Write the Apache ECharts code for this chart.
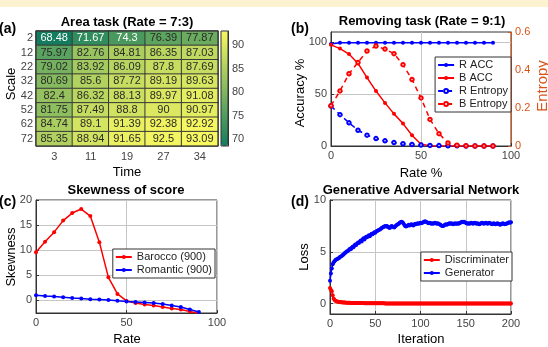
<!DOCTYPE html>
<html>
<head>
<meta charset="utf-8">
<script src="https://cdn.jsdelivr.net/npm/echarts@6/dist/echarts.min.js"></script>
<style>html,body{margin:0;padding:0;background:#fff;}#c{width:548px;height:347px;}</style>
</head>
<body>
<div id="c"></div>
<script>
// ---------- (a) heatmap ----------
var heatTime = ['3', '11', '19', '27', '34'];
var heatScale = ['2', '12', '22', '32', '42', '52', '62', '72'];
var heatRow2  = [68.48, 71.67, 74.3, 76.39, 77.87];
var heatRow12 = [75.97, 82.76, 84.81, 86.35, 87.03];
var heatRow22 = [79.02, 83.92, 86.09, 87.8, 87.69];
var heatRow32 = [80.69, 85.6, 87.72, 89.19, 89.63];
var heatRow42 = [82.4, 86.32, 88.13, 89.97, 91.08];
var heatRow52 = [81.75, 87.49, 88.8, 90, 90.97];
var heatRow62 = [84.74, 89.1, 91.39, 92.38, 92.92];
var heatRow72 = [85.35, 88.94, 91.65, 92.5, 93.09];
var colorbarTicks = [70, 75, 80, 85, 90];

// ---------- (b) removing task ----------
var rateB = [0, 5, 10, 15, 20, 25, 30, 35, 40, 45, 50, 55, 60, 65, 70, 75, 80, 85, 90];
var rAcc = [98.5, 99.6, 99.6, 99.6, 99.6, 99.6, 99.6, 99.6, 99.6, 99.6, 99.6, 99.6, 99.6, 99.6, 99.6, 99.6, 99.6, 99.6, 99.6];
var bAcc = [97.6, 94, 88.7, 79.7, 66, 53, 41.6, 31, 21.6, 10.3, 1.6, 0.3, 0.1, 0, 0, 0, 0, 0, 0];
var rEnt = [0.21, 0.165, 0.122, 0.083, 0.057, 0.039, 0.027, 0.018, 0.012, 0.008, 0.005, 0.003, 0.002, 0.001, 0.001, 0, 0, 0, 0];
var bEnt = [0.212, 0.29, 0.38, 0.44, 0.50, 0.526, 0.51, 0.486, 0.428, 0.35, 0.253, 0.14, 0.065, 0.016, 0.004, 0.001, 0, 0, 0];

// ---------- (c) skewness ----------
var rateC = [0, 5, 10, 15, 20, 25, 30, 35, 40, 45, 50, 55, 60, 65, 70, 75, 80, 85, 90];
var barocco = [9.6, 11.7, 13.6, 15.9, 17.4, 18.2, 16.8, 11.6, 4.6, 1.3, -0.1, -0.5, -0.8, -1.0, -1.3, -1.6, -1.8, -2.2, -2.6];
var romantic = [1.05, 0.9, 0.8, 0.66, 0.5, 0.4, 0.26, 0.2, 0.07, -0.07, -0.2, -0.3, -0.4, -0.5, -0.7, -1.0, -1.3, -1.8, -2.3];

// ---------- (d) GAN losses, iterations 0..200 ----------
var discriminater = [1.5, 1.35, 1.2, 0.8, 0.5, 0.35, 0.28, 0.24, 0.2, 0.18,
  0.16, 0.15, 0.14, 0.13, 0.12, 0.11, 0.1, 0.1, 0.09, 0.09,
  0.08, 0.08, 0.08, 0.07, 0.07, 0.07, 0.07, 0.06, 0.06, 0.06,
  0.06, 0.06, 0.05, 0.05, 0.05, 0.05, 0.05, 0.05, 0.04, 0.04,
  0.04, 0.04, 0.04, 0.04, 0.04, 0.04, 0.03, 0.03, 0.03, 0.03,
  0.03, 0.03, 0.03, 0.03, 0.03, 0.03, 0.03, 0.03, 0.03, 0.03,
  0.03, 0.02, 0.02, 0.02, 0.02, 0.02, 0.02, 0.02, 0.02, 0.02,
  0.02, 0.02, 0.02, 0.02, 0.02, 0.02, 0.02, 0.02, 0.02, 0.02,
  0.02, 0.02, 0.02, 0.02, 0.02, 0.02, 0.02, 0.02, 0.02, 0.02,
  0.02, 0.02, 0.02, 0.02, 0.02, 0.02, 0.02, 0.02, 0.02, 0.02,
  0.02, 0.02, 0.02, 0.02, 0.02, 0.02, 0.02, 0.02, 0.02, 0.02,
  0.02, 0.02, 0.02, 0.02, 0.02, 0.02, 0.02, 0.02, 0.02, 0.02,
  0.02, 0.02, 0.02, 0.02, 0.02, 0.02, 0.02, 0.02, 0.02, 0.02,
  0.02, 0.02, 0.02, 0.02, 0.02, 0.02, 0.02, 0.02, 0.02, 0.02,
  0.02, 0.02, 0.02, 0.02, 0.02, 0.02, 0.02, 0.02, 0.02, 0.02,
  0.02, 0.02, 0.02, 0.02, 0.02, 0.02, 0.02, 0.02, 0.02, 0.02,
  0.02, 0.02, 0.02, 0.02, 0.02, 0.02, 0.02, 0.02, 0.02, 0.02,
  0.02, 0.02, 0.02, 0.02, 0.02, 0.02, 0.02, 0.02, 0.02, 0.02,
  0.02, 0.02, 0.02, 0.02, 0.02, 0.02, 0.02, 0.02, 0.02, 0.02,
  0.02, 0.02, 0.02, 0.02, 0.02, 0.02, 0.02, 0.02, 0.02, 0.02,
  0.02];
var generator = [2.2, 2.9, 3.4, 3.8, 4.0, 4.1, 4.2, 4.25, 4.3, 4.35,
  4.4, 4.5, 4.55, 4.6, 4.7, 4.75, 4.85, 4.9, 5.0, 5.05,
  5.1, 5.2, 5.3, 5.25, 5.4, 5.5, 5.45, 5.6, 5.7, 5.65,
  5.8, 5.9, 5.85, 6.0, 6.1, 6.0, 6.2, 6.3, 6.2, 6.35,
  6.45, 6.4, 6.5, 6.6, 6.5, 6.65, 6.75, 6.7, 6.8, 6.9,
  6.85, 6.95, 7.0, 7.05, 7.1, 7.15, 7.2, 7.3, 7.35, 7.4,
  7.45, 7.5, 7.45, 7.5, 7.4, 7.35, 7.3, 7.4, 7.5, 7.45,
  7.4, 7.35, 7.45, 7.55, 7.6, 7.65, 7.7, 7.8, 7.85, 7.9,
  7.85, 7.75, 7.6, 7.5, 7.45, 7.5, 7.55, 7.6, 7.55, 7.6,
  7.65, 7.6, 7.55, 7.6, 7.7, 7.65, 7.7, 7.75, 7.7, 7.75,
  7.8, 7.75, 7.8, 7.85, 7.9, 7.95, 7.9, 7.85, 7.8, 7.75,
  7.8, 7.75, 7.7, 7.75, 7.7, 7.75, 7.8, 7.75, 7.7, 7.75,
  7.7, 7.65, 7.6, 7.55, 7.5, 7.5, 7.55, 7.6, 7.65, 7.6,
  7.65, 7.7, 7.75, 7.7, 7.75, 7.7, 7.65, 7.7, 7.75, 7.7,
  7.7, 7.75, 7.7, 7.75, 7.8, 7.85, 7.9, 7.85, 7.9, 7.85,
  7.8, 7.75, 7.7, 7.75, 7.7, 7.75, 7.8, 7.75, 7.7, 7.75,
  7.8, 7.75, 7.7, 7.75, 7.7, 7.65, 7.7, 7.75, 7.8, 7.75,
  7.7, 7.75, 7.8, 7.75, 7.7, 7.75, 7.8, 7.75, 7.7, 7.65,
  7.7, 7.75, 7.7, 7.65, 7.7, 7.75, 7.7, 7.65, 7.6, 7.65,
  7.7, 7.75, 7.7, 7.65, 7.7, 7.7, 7.75, 7.8, 7.85, 7.8,
  7.85];

// ---------- build ----------
var FONT = 'Liberation Sans, Arial, Helvetica, sans-serif';
var TICK = '#444';
var AX = '#333';
var GRIDC = '#c6c6c6';
var ORANGE = '#d95319';

var heatRows = [heatRow2, heatRow12, heatRow22, heatRow32, heatRow42, heatRow52, heatRow62, heatRow72];
var heatData = [];
heatRows.forEach(function (row, yi) {
  row.forEach(function (v, xi) {
    heatData.push({
      value: [xi, yi, v],
      label: { color: v < 75 ? '#ffffff' : '#2a2a2a' }
    });
  });
});
function pairs(xs, ys) { return ys.map(function (y, i) { return [xs[i], y]; }); }
function idxPairs(ys) { return ys.map(function (y, i) { return [i, y]; }); }

var lbl = { fontFamily: FONT, fontSize: 11, color: TICK };
function valueAxis(extra) {
  var base = {
    type: 'value',
    axisLine: { show: true, onZero: false, lineStyle: { color: AX, width: 1 } },
    axisTick: { show: true, inside: true, length: 3, lineStyle: { color: AX } },
    axisLabel: Object.assign({ margin: 4 }, lbl),
    splitLine: { show: true, lineStyle: { color: GRIDC, width: 1 } }
  };
  return Object.assign(base, extra);
}
function boxGrid(l, t, w, h) {
  return { left: l, top: t, width: w, height: h, show: true, borderColor: AX, borderWidth: 1, backgroundColor: 'transparent', containLabel: false };
}

function txt(text, x, y, opt) {
  opt = opt || {};
  return {
    type: 'text', x: x, y: y, rotation: opt.rot || 0, z: 100,
    style: {
      text: text,
      font: (opt.bold ? 'bold ' : '') + (opt.size || 13) + 'px ' + FONT,
      fill: opt.color || '#000',
      textAlign: opt.align || 'center', align: opt.align || 'center',
      textVerticalAlign: 'middle', verticalAlign: 'middle'
    }
  };
}

var legendBase = {
  orient: 'vertical', itemWidth: 16, itemHeight: 5, itemGap: 1,
  padding: [2, 3, 2, 2], backgroundColor: '#fff', borderColor: AX, borderWidth: 1,
  borderRadius: 0, textStyle: { fontFamily: FONT, fontSize: 11, color: '#222', lineHeight: 12 }
};

var option = {
  animation: false,
  backgroundColor: '#fff',
  graphic: [
    { type: 'rect', shape: { x: 0, y: 0, width: 548, height: 7 }, style: { fill: '#fdf2d0' }, z: 0 },
    txt('Area task (Rate = 7:3)', 127, 22, { bold: true }),
    txt('(a)', -1, 29, { bold: true, size: 14, align: 'left' }),
    txt('Removing task (Rate = 9:1)', 422, 21, { bold: true }),
    txt('(b)', 291, 29, { bold: true, size: 14, align: 'left' }),
    txt('Skewness of score', 126, 190, { bold: true }),
    txt('(c)', -1, 202, { bold: true, size: 14, align: 'left' }),
    txt('Generative Adversarial Network', 421, 190, { bold: true }),
    txt('(d)', 291, 202, { bold: true, size: 14, align: 'left' }),
    txt('Scale', 11, 84, { rot: Math.PI / 2, size: 13 }),
    txt('Time', 127, 172, { size: 13 }),
    txt('Accuracy %', 300, 93, { rot: Math.PI / 2, size: 13 }),
    txt('Rate %', 421, 173, { size: 13 }),
    txt('Entropy', 543, 86, { rot: Math.PI / 2, size: 15, color: ORANGE }),
    txt('Skewness', 11, 257, { rot: Math.PI / 2, size: 13 }),
    txt('Rate', 127, 339, { size: 13 }),
    txt('Loss', 304, 257, { rot: Math.PI / 2, size: 13 }),
    txt('Iteration', 421, 339, { size: 13 })
  ],
  grid: [
    { left: 36, top: 31, width: 182, height: 115, show: true, borderColor: AX, borderWidth: 1, backgroundColor: 'transparent', z: 5 },
    { left: 221, top: 31, width: 7, height: 115, show: true, borderColor: AX, borderWidth: 1, backgroundColor: 'transparent', z: 10 },
    boxGrid(331, 32, 180, 114),
    boxGrid(36, 200, 181, 113),
    boxGrid(330, 200, 181, 114)
  ],
  visualMap: [{
    type: 'continuous', seriesIndex: 0, min: 68.48, max: 93.09,
    left: 221, top: 31, itemWidth: 7, itemHeight: 115, padding: 0,
    calculable: false, hoverLink: false,
    inRange: { color: ['#137c5e', '#f8f860'] }
  }],
  xAxis: [
    { gridIndex: 0, type: 'category', data: heatTime, axisLine: { show: false }, axisTick: { show: false },
      axisLabel: Object.assign({ margin: 5 }, lbl), splitLine: { show: false } },
    { gridIndex: 1, type: 'value', show: false, min: 0, max: 1 },
    valueAxis({ gridIndex: 2, min: 0, max: 100, interval: 50 }),
    valueAxis({ gridIndex: 3, min: 0, max: 100, interval: 50 }),
    valueAxis({ gridIndex: 4, min: 0, max: 200, interval: 50 })
  ],
  yAxis: [
    { gridIndex: 0, type: 'category', data: heatScale, inverse: true, axisLine: { show: false }, axisTick: { show: false },
      axisLabel: Object.assign({ margin: 3 }, lbl), splitLine: { show: false } },
    { gridIndex: 1, type: 'value', position: 'right', min: 68.48, max: 93.09,
      axisLine: { show: true, onZero: false, lineStyle: { color: AX } },
      axisTick: { show: true, inside: true, length: 2, lineStyle: { color: AX }, customValues: colorbarTicks },
      axisLabel: Object.assign({ margin: 4, customValues: colorbarTicks }, lbl),
      splitLine: { show: false } },
    valueAxis({ gridIndex: 2, min: 0, max: 110,
      axisTick: { show: true, inside: true, length: 3, lineStyle: { color: AX }, customValues: [0, 50, 100] },
      axisLabel: Object.assign({ margin: 4, customValues: [0, 50, 100] }, lbl) }),
    valueAxis({ gridIndex: 2, min: 0, max: 0.6, interval: 0.2, position: 'right',
      axisLine: { show: true, onZero: false, lineStyle: { color: ORANGE } },
      axisTick: { show: true, inside: true, length: 3, lineStyle: { color: ORANGE } },
      axisLabel: Object.assign({}, lbl, { margin: 4, color: ORANGE, formatter: function (v) { return v === 0 ? '0' : String(+v.toFixed(1)); } }),
      splitLine: { show: false } }),
    valueAxis({ gridIndex: 3, min: -2.5, max: 20,
      axisTick: { show: true, inside: true, length: 3, lineStyle: { color: AX }, customValues: [0, 5, 10, 15, 20] },
      axisLabel: Object.assign({ margin: 4, customValues: [0, 5, 10, 15, 20] }, lbl) }),
    valueAxis({ gridIndex: 4, min: -1, max: 10,
      axisTick: { show: true, inside: true, length: 3, lineStyle: { color: AX }, customValues: [0, 5, 10] },
      axisLabel: Object.assign({ margin: 4, customValues: [0, 5, 10] }, lbl) })
  ],
  legend: [
    Object.assign({}, legendBase, { data: ['R ACC', 'B ACC', 'R Entropy', 'B Entropy'], right: 37, top: 57 }),
    Object.assign({}, legendBase, { data: ['Barocco (900)', 'Romantic (900)'], right: 333, top: 249 }),
    Object.assign({}, legendBase, { data: ['Discriminater', 'Generator'], right: 36, top: 252 })
  ],
  series: [
    { type: 'heatmap', xAxisIndex: 0, yAxisIndex: 0, data: heatData,
      itemStyle: { borderColor: '#3a3a3a', borderWidth: 1 },
      label: { show: true, fontFamily: FONT, fontSize: 11, formatter: function (p) { return String(p.value[2]); } } },
    { name: 'R ACC', type: 'line', xAxisIndex: 2, yAxisIndex: 2, data: pairs(rateB, rAcc),
      color: '#0000ff', symbol: 'circle', symbolSize: 4, lineStyle: { width: 1.5, color: '#0000ff' }, itemStyle: { color: '#0000ff' } },
    { name: 'B ACC', type: 'line', xAxisIndex: 2, yAxisIndex: 2, data: pairs(rateB, bAcc),
      color: '#ff0000', symbol: 'circle', symbolSize: 4, lineStyle: { width: 1.5, color: '#ff0000' }, itemStyle: { color: '#ff0000' } },
    { name: 'R Entropy', type: 'line', xAxisIndex: 2, yAxisIndex: 3, data: pairs(rateB, rEnt),
      color: '#0000ff', symbol: 'emptyCircle', symbolSize: 3.5, lineStyle: { width: 1.5, color: '#0000ff', type: [5, 4] }, itemStyle: { color: '#0000ff', borderWidth: 1 } },
    { name: 'B Entropy', type: 'line', xAxisIndex: 2, yAxisIndex: 3, data: pairs(rateB, bEnt),
      color: '#ff0000', symbol: 'emptyCircle', symbolSize: 3.5, lineStyle: { width: 1.5, color: '#ff0000', type: [5, 4] }, itemStyle: { color: '#ff0000', borderWidth: 1 } },
    { name: 'Barocco (900)', type: 'line', xAxisIndex: 3, yAxisIndex: 4, data: pairs(rateC, barocco),
      color: '#ff0000', symbol: 'circle', symbolSize: 4, lineStyle: { width: 1.5, color: '#ff0000' }, itemStyle: { color: '#ff0000' } },
    { name: 'Romantic (900)', type: 'line', xAxisIndex: 3, yAxisIndex: 4, data: pairs(rateC, romantic),
      color: '#0000ff', symbol: 'circle', symbolSize: 4, lineStyle: { width: 1.5, color: '#0000ff' }, itemStyle: { color: '#0000ff' } },
    { name: 'Discriminater', type: 'line', xAxisIndex: 4, yAxisIndex: 5, data: idxPairs(discriminater),
      color: '#ff0000', symbol: 'circle', symbolSize: 4, lineStyle: { width: 1.5, color: '#ff0000' }, itemStyle: { color: '#ff0000' } },
    { name: 'Generator', type: 'line', xAxisIndex: 4, yAxisIndex: 5, data: idxPairs(generator),
      color: '#0000ff', symbol: 'circle', symbolSize: 4, lineStyle: { width: 1.5, color: '#0000ff' }, itemStyle: { color: '#0000ff' } }
  ]
};

var chart = echarts.init(document.getElementById('c'), null, { renderer: 'canvas' });
chart.setOption(option);
</script>
</body>
</html>
